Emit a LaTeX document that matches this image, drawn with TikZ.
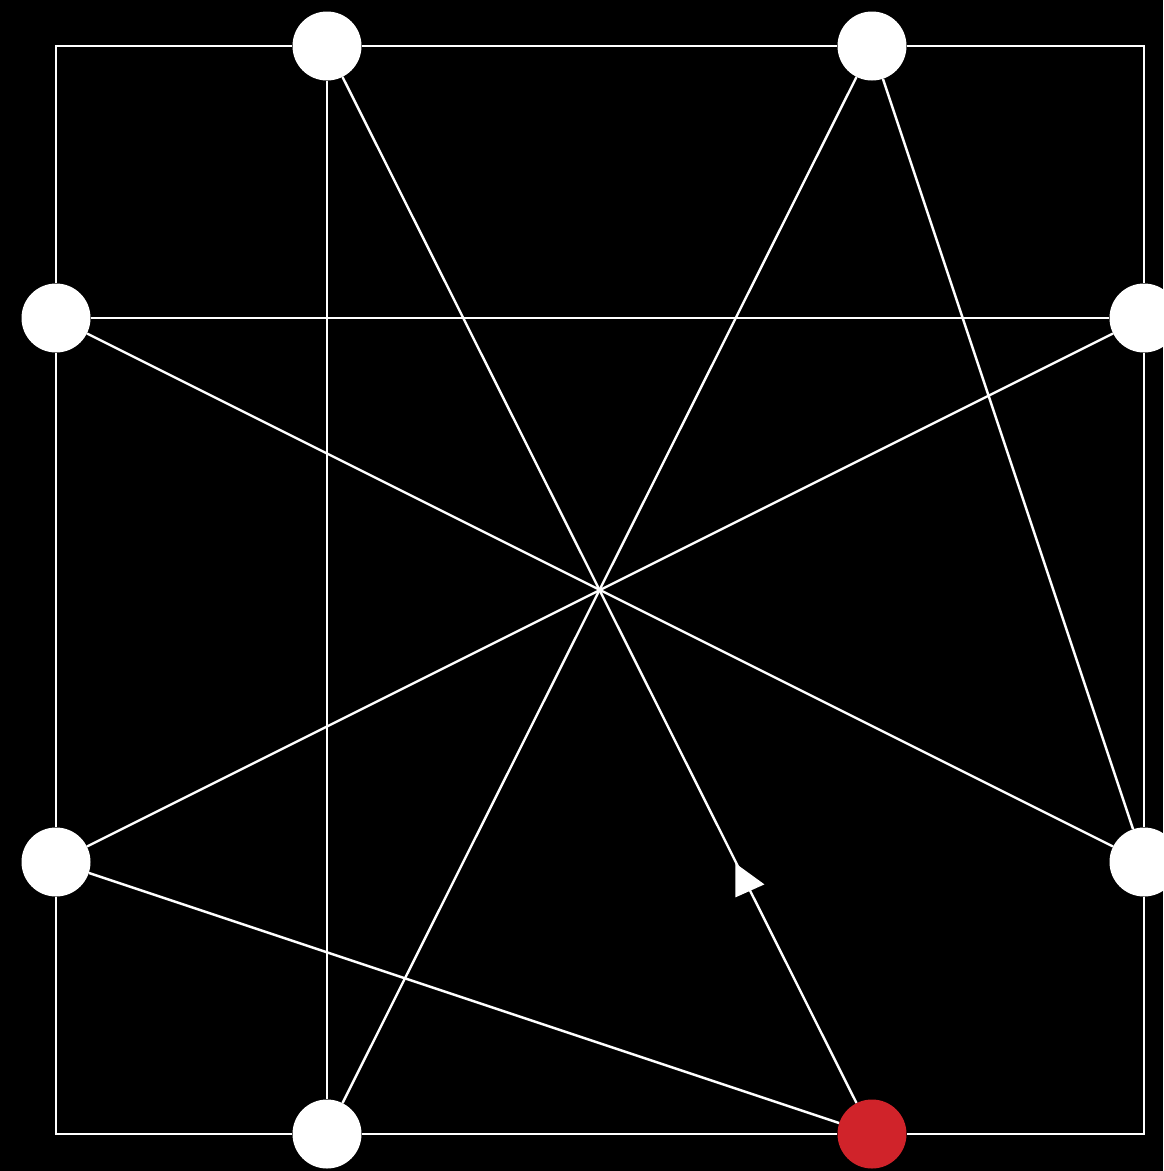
\documentclass[tikz,border=0pt]{standalone}
\usepackage{tikz}
\usetikzlibrary{arrows.meta,positioning}
\definecolor{dotred}{RGB}{208,35,42}

\begin{document}
\begin{tikzpicture}[
    x=1pt, y=-1pt,
    dot/.style={circle, fill=white, minimum size=69pt, inner sep=0pt},
    reddot/.style={dot, fill=dotred},
    link/.style={draw=white, line width=2.4pt},
    tip/.style={fill=white}
]
\fill[black] (0,0) rectangle (1163,1171);
\useasboundingbox (0,0) rectangle (1163,1171);
\node[dot] (t1) at (327,46) {};
\node[dot] (t2) at (872,46) {};
\node[dot] (l1) at (56,318) {};
\node[dot] (l2) at (56,862) {};
\node[dot] (r1) at (1144,318) {};
\node[dot] (r2) at (1144,862) {};
\node[dot] (b1) at (327,1134) {};
\node[reddot] (b2) at (872,1134) {};
% frame corners
\coordinate (c1) at (56,46);
\coordinate (c2) at (1144,46);
\coordinate (c3) at (1144,1134);
\coordinate (c4) at (56,1134);
\draw[link] (l1) -- (c1) -- (t1);
\draw[link] (t1) -- (t2);
\draw[link] (t2) -- (c2) -- (r1);
\draw[link] (r1) -- (r2);
\draw[link] (r2) -- (c3) -- (b2);
\draw[link] (b2) -- (b1);
\draw[link] (b1) -- (c4) -- (l2);
\draw[link] (l2) -- (l1);
% inner links
\draw[link] (t1) -- (b1);
\draw[link] (b2) -- coordinate[pos=0.216] (mk) (t1);
\draw[link] (t2) -- (b1);
\draw[link] (t2) -- (r2);
\draw[link] (l1) -- (r1);
\draw[link] (l1) -- (r2);
\draw[link] (r1) -- (l2);
\draw[link] (l2) -- (b2);
\fill[tip] ([shift={(-10,-18)}]mk) -- ([shift={(19,3)}]mk) -- ([shift={(-10,16)}]mk) -- cycle;
\end{tikzpicture}
\end{document}
